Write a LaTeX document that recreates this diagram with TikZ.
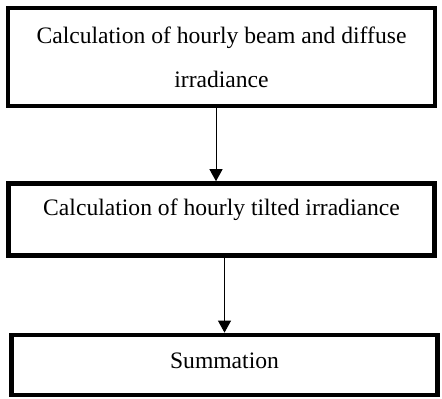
\documentclass[tikz,border=0pt]{standalone}
\usepackage{fontspec}
\setmainfont{Liberation Serif}
\usetikzlibrary{arrows.meta,positioning}

\begin{document}
\begin{tikzpicture}[stepbox/.style={draw, line width=2.2pt, minimum width=213.5pt, inner sep=0pt,
                        align=center, font=\fontsize{11.8pt}{22pt}\selectfont},
                    flow/.style={-{Triangle[length=6pt,width=6.5pt]}, line width=0.5pt}]
            \useasboundingbox (-110.75pt,28.5pt) rectangle (110.25pt,-170.5pt);
            \node (beamdiffuse) [stepbox, minimum height=49pt] {Calculation of hourly beam and diffuse\\irradiance};
            \node (tilted)      [stepbox, minimum height=36pt, minimum width=213pt, text height=8pt, text depth=12pt,
                                 below=36.5pt of beamdiffuse] {Calculation of hourly tilted irradiance};
            \node (summation)   [stepbox, minimum height=30pt, minimum width=213pt, text height=8pt, text depth=4pt,
                                 below=37.5pt of tilted, xshift=1.5pt] {Summation};
            \draw[flow] ([xshift=-2.75pt]beamdiffuse.south) -- ([xshift=-2.75pt]beamdiffuse.south |- tilted.north);
            \draw[flow] (tilted.south -| summation.north) -- (summation.north);
        \end{tikzpicture}
\end{document}
